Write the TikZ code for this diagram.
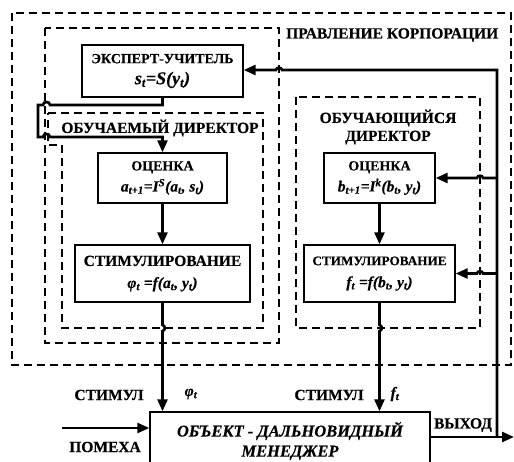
\documentclass[tikz,border=0pt]{standalone}
\usepackage{fontspec}
\setmainfont[BoldFeatures={FakeBold=0.4}, BoldItalicFeatures={FakeBold=0.4}]{Liberation Serif}
\usetikzlibrary{arrows.meta}
\newcommand{\ix}[1]{\textsubscript{#1}}
\newcommand{\upx}[1]{\textsuperscript{#1}}
\newcommand{\frm}{\fontsize{15.5}{17}\selectfont\itshape}

\begin{document}
\begin{tikzpicture}[x=1pt, y=-1pt,
	block/.style={draw, line width=1.4pt, align=center, inner sep=0pt, font=\fontsize{14}{21}\selectfont\bfseries},
	group/.style={line width=1.1pt, dash pattern=on 8pt off 5pt},
	lbl/.style={inner sep=0pt, align=center, font=\fontsize{15.5}{18}\selectfont\bfseries},
	link/.style={line width=2.6pt},
	arr/.style={link, -{Triangle[length=12pt, width=10pt]}}]
	\useasboundingbox (0,0) rectangle (514,461);
	
	% Dashed groups
	\draw[group] (12,13) rectangle (511,365);
	\node[lbl, anchor=west] (board) at (286,35) {ПРАВЛЕНИЕ КОРПОРАЦИИ};
	\draw[group] (45,28) rectangle (279,343);
	\draw[group] (48,113) -- (263,113) -- (263,328) -- (62,328) -- (62,145) -- (48,145) -- cycle;
	\node[lbl] (taught) at (160,128) {ОБУЧАЕМЫЙ ДИРЕКТОР};
	\draw[group] (296,97) rectangle (480,328);
	\node[lbl] (learner) at (388,127) {ОБУЧАЮЩИЙСЯ\\ДИРЕКТОР};
	
	% Blocks
	\node[block, minimum width=161pt, minimum height=52pt] (expert) at (162.5,71) {ЭКСПЕРТ-УЧИТЕЛЬ\\{\fontsize{18}{19}\selectfont\itshape s\ix{t}=S(y\ix{t})}};
	\node[block, minimum width=129pt, minimum height=50pt] (evall) at (162.5,178) {ОЦЕНКА\\{\frm a\ix{t+1}=I\upx{S}(a\ix{t}, s\ix{t})}};
	\node[block, minimum width=175pt, minimum height=57pt, font=\fontsize{15.5}{22}\selectfont\bfseries] (stiml) at (162.5,273.5) {СТИМУЛИРОВАНИЕ\\{\frm φ\ix{t} =f(a\ix{t}, y\ix{t})}};
	\node[block, minimum width=111pt, minimum height=50pt] (evalr) at (379.5,178) {ОЦЕНКА\\{\frm b\ix{t+1}=I\upx{k}(b\ix{t}, y\ix{t})}};
	\node[block, minimum width=151pt, minimum height=57pt, font=\fontsize{13.2}{22}\selectfont\bfseries] (stimr) at (379.5,273.5) {СТИМУЛИРОВАНИЕ\\{\frm f\ix{t} =f(b\ix{t}, y\ix{t})}};
	\node[block, minimum width=280pt, minimum height=58pt, font=\fontsize{16.5}{20}\selectfont\bfseries\itshape] (obj) at (290,441) {ОБЪЕКТ - ДАЛЬНОВИДНЫЙ\\МЕНЕДЖЕР};
	
	% Labels
	\node[lbl] (stim1) at (109,395) {СТИМУЛ};
	\node[lbl, font=\frm\bfseries] (phi) at (191,394) {φ\ix{t}};
	\node[lbl] (stim2) at (329,395) {СТИМУЛ};
	\node[lbl, font=\frm\bfseries] (fout) at (395,394) {f\ix{t}};
	\node[lbl] (noiselbl) at (105,447) {ПОМЕХА};
	\node[lbl] (outlbl) at (463,425) {ВЫХОД};
	
	% Connections
	\coordinate (tap) at (497,437);
	\coordinate (out) at (514,437);
	\coordinate (noise) at (62,428);
	\draw[arr] (obj.east |- tap) -- (out);
	\draw[arr] (tap) -- (497,70) -- (282,70) .. controls (282,67) and (276,67) .. (276,70) -- (expert.east |- 0,70);
	\draw[arr] (497,178) -- (483,178) .. controls (483,175) and (477,175) .. (477,178) -- (evalr.east);
	\draw[arr] (497,273.5) -- (483,273.5) .. controls (483,270.5) and (477,270.5) .. (477,273.5) -- (stimr.east);
	\draw[arr] (expert.south) -- (162.5,105) -- (50,105) .. controls (50,101) and (43,101) .. (43,105) -- (38,105) -- (38,137) -- (43,137) .. controls (43,133) and (50,133) .. (50,137) -- (162.5,137) -- (evall.north);
	\draw[arr] (evall) -- (stiml);
	\draw[arr] (evalr) -- (stimr);
	\draw[arr] (stiml.south) -- (162.5,325) .. controls (165.5,325) and (165.5,331) .. (162.5,331) -- (obj.north -| stiml.south);
	\draw[arr] (stimr.south) -- (379.5,325) .. controls (382.5,325) and (382.5,331) .. (379.5,331) -- (obj.north -| stimr.south);
	\draw[arr] (noise) -- (obj.west |- noise);
\end{tikzpicture}
\end{document}
